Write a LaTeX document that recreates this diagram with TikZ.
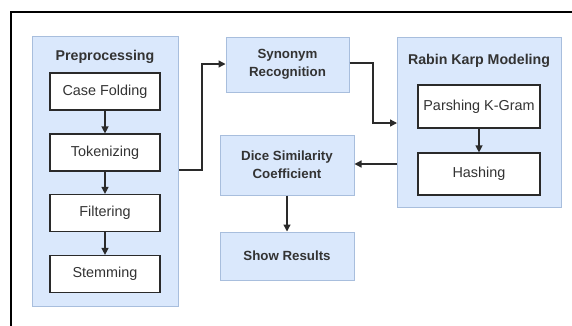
\documentclass[tikz,border=0pt]{standalone}
\usepackage{fontspec}
\setmainfont{Liberation Sans}
\usetikzlibrary{arrows.meta}
\definecolor{boxfill}{HTML}{DAE8FC}
\definecolor{boxline}{HTML}{A8BEDD}
\definecolor{txt}{HTML}{333333}
\definecolor{lin}{HTML}{2A2A2A}
\tikzset{
  grp/.style={draw=boxline, fill=boxfill, line width=1pt},
  inbox/.style={draw=lin, fill=white, line width=1.2pt, font=\fontsize{14.4}{17}\selectfont, text=txt},
  bluebox/.style={draw=boxline, fill=boxfill, line width=1pt, font=\bfseries\fontsize{13.3}{18}\selectfont, text=txt, align=center},
  ttl/.style={font=\bfseries\fontsize{14.2}{17}\selectfont, text=txt},
  arr/.style={draw=lin, line width=1.3pt, -{Triangle[length=7pt,width=7pt]}},
}
\begin{document}
\begin{tikzpicture}[x=1pt,y=-1pt]
\useasboundingbox (0,0) rectangle (572,325);
\fill[white] (0,0) rectangle (572,325);
% outer frame
\draw[black, line width=2pt] (11,326) -- (11,12) -- (573,12);
% containers
\node[grp, minimum width=146pt, minimum height=270pt, anchor=north west] (pre) at (32,36) {};
\node[ttl] (pret) at (105,57) {Preprocessing};
\node[grp, minimum width=164pt, minimum height=170pt, anchor=north west] (rk) at (397,37) {};
\node[ttl] (rkt) at (479,61) {Rabin Karp Modeling};
% inner boxes
\node[inbox, minimum width=110pt, minimum height=37pt] (cf) at (105,91.5) {Case Folding};
\node[inbox, minimum width=110pt, minimum height=37pt] (tok) at (105,152.5) {Tokenizing};
\node[inbox, minimum width=110pt, minimum height=37pt] (fil) at (105,213) {Filtering};
\node[inbox, minimum width=110pt, minimum height=37pt] (stem) at (105,274) {Stemming};
\node[inbox, minimum width=122pt, minimum height=43pt] (pk) at (479,106.5) {Parshing K-Gram};
\node[inbox, minimum width=122pt, minimum height=42pt] (hash) at (479,174) {Hashing};
% blue boxes
\node[bluebox, minimum width=123pt, minimum height=55pt] (syn) at (287.5,64.5) {Synonym\\Recognition};
\node[bluebox, minimum width=134pt, minimum height=60pt] (dice) at (287,165) {Dice Similarity\\Coefficient};
\node[bluebox, minimum width=134pt, minimum height=48pt] (show) at (287,256) {Show Results};
% connectors
\draw[arr] (cf) -- (tok);
\draw[arr] (tok) -- (fil);
\draw[arr] (fil) -- (stem);
\draw[arr] (pk) -- (hash);
\coordinate (pa) at (pre.east |- 0,170);
\draw[arr] (pa) -- (202,170) -- (202,64) -- (syn.west |- 0,64);
\coordinate (sa) at (syn.east |- 0,63);
\draw[arr] (sa) -- (373,63) -- (373,123) -- (rk.west |- 0,123);
\coordinate (ra) at (rk.west |- 0,164);
\draw[arr] (ra) -- (dice.east |- 0,164);
\draw[arr] (dice) -- (show);
\end{tikzpicture}
\end{document}
